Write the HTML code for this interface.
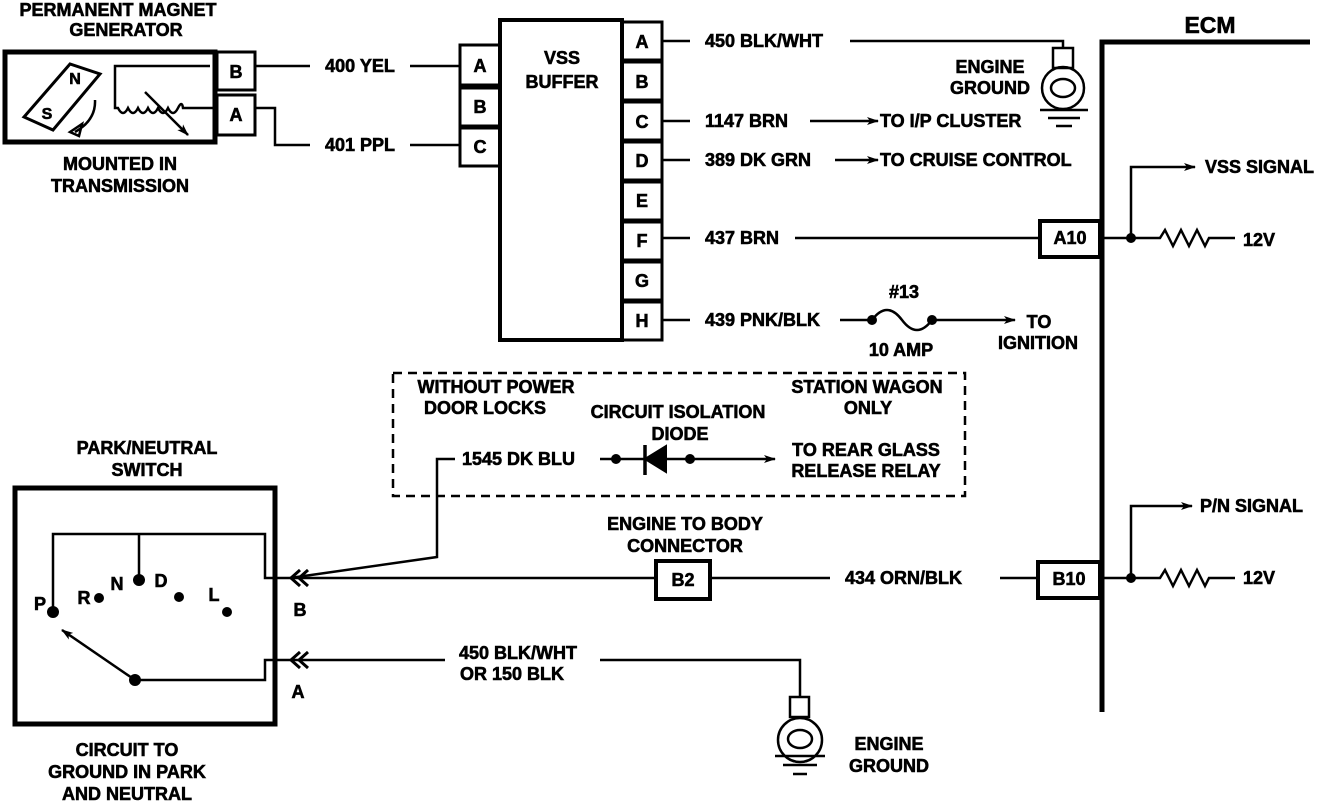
<!DOCTYPE html>
<html><head><meta charset="utf-8"><style>
html,body{margin:0;padding:0;background:#fff}
svg{display:block}
text{font-family:"Liberation Sans",sans-serif;font-weight:bold;fill:#000;stroke:#000;stroke-width:0.6}
</style></head><body>
<svg width="1328" height="802" viewBox="0 0 1328 802" xmlns="http://www.w3.org/2000/svg">
<defs><marker id="ar" markerWidth="12" markerHeight="8" refX="11" refY="4" orient="auto" markerUnits="userSpaceOnUse"><path d="M0,0 L12,4 L0,8 L3,4z" fill="#000"/></marker></defs>
<g stroke="#000" fill="none" stroke-width="3">
<rect x="5" y="52" width="210" height="90" stroke-width="5"/>
<rect x="217" y="52" width="38" height="38" stroke-width="3"/>
<rect x="217" y="95" width="38" height="40" stroke-width="3"/>
<polygon points="24,117 70,64 100,74 53,130" stroke-width="3"/>
<path d="M95,100 Q96,120 75,132 M70,132 l12,-8 l-3,12z" stroke-width="2.5"/>
<path d="M210,66 H115 V108 H118 q5,10 10,0 q5,10 10,0 q5,10 10,0 q5,10 10,0 q5,10 10,0 q5,10 10,0 q4,-8 5,0 H215" stroke-width="2.5"/>
<path d="M145,92 L188,135" stroke-width="2.5" marker-end="url(#ar)"/>
<path d="M255,66 H310 M255,108 H275 V145 H310 M410,66 H460 M410,145 H460" stroke-width="2.5"/>
<rect x="460" y="45" width="40" height="40"/>
<rect x="460" y="88" width="40" height="38"/>
<rect x="460" y="128" width="40" height="38"/>
<rect x="500" y="20" width="122" height="320" stroke-width="4"/>
<rect x="622" y="22" width="40" height="38"/><rect x="622" y="62" width="40" height="38"/><rect x="622" y="102" width="40" height="38"/><rect x="622" y="142" width="40" height="38"/><rect x="622" y="182" width="40" height="38"/><rect x="622" y="222" width="40" height="38"/><rect x="622" y="262" width="40" height="38"/><rect x="622" y="302" width="40" height="38"/>
<path d="M662,41 H690 M662,121 H690 M662,160 H690 M662,238 H690 M662,320 H690" stroke-width="2.5"/>
<path d="M850,41 H1063 V48" stroke-width="2.5"/>
<rect x="1053" y="48" width="20" height="20" stroke-width="2.5"/>
<circle cx="1063" cy="88" r="21" stroke-width="2.5"/><ellipse cx="1063" cy="88" rx="12" ry="9" stroke-width="2.5"/>
<path d="M1040,110 H1088 M1048,118 H1080 M1056,126 H1072" stroke-width="2.5"/>
<path d="M810,121 H878" stroke-width="2.5" marker-end="url(#ar)"/>
<path d="M835,160 H878" stroke-width="2.5" marker-end="url(#ar)"/>
<path d="M795,238 H1040" stroke-width="2.5"/>
<rect x="1040" y="221" width="60" height="36" stroke-width="4"/>
<path d="M840,320 H872 Q887,300 902,320 Q917,340 932,320 H1015" stroke-width="2.5" marker-end="url(#ar)"/>
<path d="M1102,712 V42 H1310" stroke-width="5"/>
<path d="M1100,238 H1160 l5,-8 l8,16 l8,-16 l8,16 l8,-16 l8,16 l4,-8 H1235" stroke-width="2.5"/>
<path d="M1131,238 V167 H1195" stroke-width="2.5" marker-end="url(#ar)"/>
<rect x="1038" y="562" width="62" height="36" stroke-width="4"/>
<path d="M1100,578 H1160 l5,-8 l8,16 l8,-16 l8,16 l8,-16 l8,16 l4,-8 H1235" stroke-width="2.5"/>
<path d="M1131,578 V506 H1192" stroke-width="2.5" marker-end="url(#ar)"/>
<path d="M710,578 H830 M1000,578 H1038" stroke-width="2.5"/>
<rect x="393" y="373" width="572" height="123" stroke-width="2.5" stroke-dasharray="9,6"/>
<path d="M600,459 H775" stroke-width="2.5" marker-end="url(#ar)"/>
<path d="M645,445 V475" stroke-width="3.5"/>
<path d="M645,459 L666,446 V472z" stroke-width="2" fill="#000"/>
<path d="M455,459 H437 V557 L290,578" stroke-width="2.5"/>
<rect x="15" y="488" width="260" height="236" stroke-width="5"/>
<path d="M53,608 V534 H265 V578 H290 M139,534 V578 M135,680 H265 V660 H290" stroke-width="2.5"/>
<path d="M135,680 L62,630" stroke-width="2.5" marker-end="url(#ar)"/>
<path d="M300,570 l-9,8 l9,8 M308,570 l-9,8 l9,8" stroke-width="3"/>
<path d="M300,652 l-9,8 l9,8 M308,652 l-9,8 l9,8" stroke-width="3"/>
<path d="M290,578 H655 M290,660 H445 M600,660 H800 V697" stroke-width="2.5"/>
<rect x="656" y="561" width="54" height="38" stroke-width="4"/>
<rect x="790" y="697" width="19" height="20" stroke-width="2.5"/>
<circle cx="800" cy="740" r="22" stroke-width="2.5"/><ellipse cx="800" cy="739" rx="12" ry="9" stroke-width="2.5"/>
<path d="M775,756 H825 M783,765 H817 M793,774 H807" stroke-width="2.5"/>
</g>
<g fill="#000">
<circle cx="1131" cy="238" r="5"/><circle cx="1131" cy="578" r="5"/>
<circle cx="872" cy="320" r="5"/><circle cx="932" cy="320" r="5"/>
<circle cx="616" cy="459" r="5"/><circle cx="690" cy="459" r="5"/>
<circle cx="53" cy="612" r="6"/><circle cx="99" cy="598" r="5"/><circle cx="139" cy="580" r="6"/><circle cx="179" cy="597" r="5"/><circle cx="227" cy="612" r="5"/><circle cx="135" cy="680" r="6"/>
</g>
<g text-anchor="middle" style="font-size:18px">
<text x="118" y="16">PERMANENT MAGNET</text><text x="126" y="36">GENERATOR</text>
<text x="236" y="78">B</text><text x="236" y="121">A</text>
<text x="47" y="119" style="font-size:16px">S</text><text x="75" y="84" style="font-size:16px">N</text>
<text x="120" y="170">MOUNTED IN</text><text x="120" y="192">TRANSMISSION</text>
<text x="360" y="72">400 YEL</text><text x="360" y="151">401 PPL</text>
<text x="480" y="72">A</text><text x="480" y="113">B</text><text x="480" y="153">C</text>
<text x="562" y="64">VSS</text><text x="562" y="88">BUFFER</text>
<text x="642" y="48">A</text><text x="642" y="88">B</text><text x="642" y="128">C</text><text x="642" y="167">D</text><text x="642" y="207">E</text><text x="642" y="247">F</text><text x="642" y="287">G</text><text x="642" y="327">H</text>
<text x="990" y="73">ENGINE</text><text x="990" y="94">GROUND</text>
<text x="1070" y="244">A10</text><text x="1069" y="585">B10</text>
<text x="1210" y="33" style="font-size:23px">ECM</text>
<text x="904" y="298">#13</text><text x="901" y="356">10 AMP</text>
<text x="1039" y="328">TO</text><text x="1038" y="349">IGNITION</text>
<text x="496" y="393">WITHOUT POWER</text><text x="485" y="414">DOOR LOCKS</text>
<text x="678" y="418">CIRCUIT ISOLATION</text><text x="680" y="440">DIODE</text>
<text x="867" y="393">STATION WAGON</text><text x="868" y="414">ONLY</text>
<text x="866" y="456">TO REAR GLASS</text><text x="866" y="477">RELEASE RELAY</text>
<text x="685" y="530">ENGINE TO BODY</text><text x="685" y="552">CONNECTOR</text>
<text x="683" y="586">B2</text>
<text x="147" y="454">PARK/NEUTRAL</text><text x="147" y="476">SWITCH</text>
<text x="300" y="616">B</text><text x="298" y="698">A</text>
<text x="40" y="610">P</text><text x="84" y="604">R</text><text x="117" y="590">N</text><text x="161" y="587">D</text><text x="214" y="601">L</text>
<text x="518" y="659">450 BLK/WHT</text><text x="512" y="680">OR 150 BLK</text>
<text x="889" y="750">ENGINE</text><text x="889" y="772">GROUND</text>
<text x="127" y="756">CIRCUIT TO</text><text x="127" y="778">GROUND IN PARK</text><text x="127" y="800">AND NEUTRAL</text>
</g>
<g style="font-size:18px">
<text x="705" y="47">450 BLK/WHT</text>
<text x="705" y="127">1147 BRN</text><text x="880" y="127">TO I/P CLUSTER</text>
<text x="705" y="166">389 DK GRN</text><text x="880" y="166">TO CRUISE CONTROL</text>
<text x="705" y="244">437 BRN</text>
<text x="705" y="326">439 PNK/BLK</text>
<text x="1205" y="173">VSS SIGNAL</text><text x="1243" y="246">12V</text>
<text x="1200" y="512">P/N SIGNAL</text><text x="1243" y="584">12V</text>
<text x="462" y="465">1545 DK BLU</text>
<text x="845" y="584">434 ORN/BLK</text>
</g>
</svg>
</body></html>
